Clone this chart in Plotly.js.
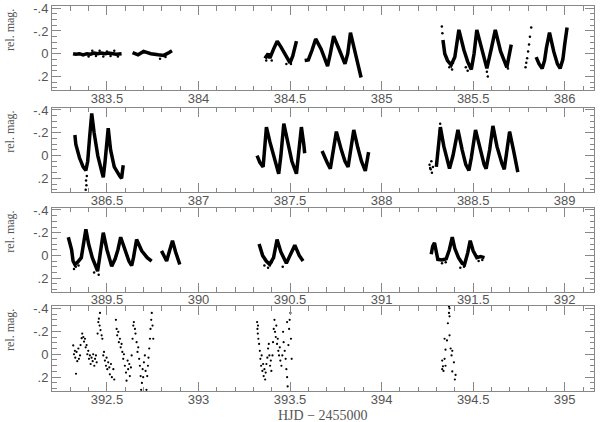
<!DOCTYPE html>
<html><head><meta charset="utf-8">
<script src="https://cdn.plot.ly/plotly-3.0.1.min.js"></script>
<style>html,body{margin:0;padding:0;background:#fff}#c{width:600px;height:422px}</style>
</head><body><div id="c"></div>
<script>
// Panel 1 (HJD-2455000 383.2 - 386.16): dense light-curve bands, segments separated by null
const p1x = [383.315,383.33,383.35,383.37,383.39,383.41,383.43,383.45,383.47,383.49,383.51,383.53,383.55,383.58,null,
  383.64,383.67,383.70,383.74,383.78,383.81,383.84,383.855,null,
  384.36,384.37,384.38,384.39,384.41,384.43,384.45,384.47,384.49,384.50,384.515,384.535,null,
  384.58,384.60,384.62,384.64,384.67,384.70,384.705,384.72,384.738,384.77,384.80,384.815,384.83,384.86,384.888,null,
  385.335,385.345,385.36,385.38,385.40,385.422,385.45,385.47,385.49,385.505,385.52,385.545,385.575,385.60,385.621,385.65,385.684,385.708,null,
  385.844,385.86,385.877,385.89,385.90,385.917,385.94,385.96,385.975,385.99,386.0,386.013];
const p1y = [0.0,0.005,0.0,0.01,0.0,0.005,-0.005,0.0,-0.005,0.0,-0.005,0.0,0.005,0.0,null,
  -0.01,0.01,-0.02,0.0,0.01,0.015,-0.01,-0.025,null,
  0.02,0.03,0.0,0.04,-0.04,-0.11,-0.06,0.0,0.06,0.08,0.02,-0.11,null,
  0.06,0.055,-0.03,-0.13,-0.04,0.10,0.11,0.0,-0.155,-0.03,0.09,0.0,-0.185,0.02,0.21,null,
  -0.12,0.0,0.06,0.10,0.03,-0.21,-0.03,0.07,0.14,0.0,-0.21,-0.06,0.13,-0.05,-0.21,-0.02,0.12,-0.08,null,
  0.03,0.09,0.13,0.06,-0.05,-0.185,-0.02,0.09,0.13,0.05,-0.08,-0.23];
const p1sx = [385.329,385.332,385.37,385.385,385.39,385.46,385.47,385.575,385.58,385.786,385.79,385.795,385.80,385.805,385.81,385.817,385.68,385.69,
  383.40,383.44,383.48,383.52,383.56,383.42,383.46,383.50,383.54,383.79,383.82,384.37,384.40,384.48,384.505];
const p1sy = [-0.24,-0.18,0.12,0.14,0.08,0.12,0.15,0.16,0.2,0.12,0.08,0.04,-0.02,-0.08,-0.15,-0.23,0.1,0.13,
  0.025,0.02,0.025,0.02,0.025,-0.025,-0.025,-0.02,-0.025,0.045,0.03,0.06,0.06,0.09,0.09];

// Panel 2 (386.2 - 389.16)
const p2x = [386.325,386.33,386.35,386.37,386.385,386.395,386.405,386.417,386.43,386.45,386.47,386.48,386.49,386.50,386.507,386.52,386.54,386.57,386.58,386.589,null,
  387.32,387.335,387.353,387.362,387.371,387.39,387.41,387.438,387.45,387.466,387.49,387.51,387.535,387.55,387.562,387.575,387.58,null,
  387.675,387.69,387.705,387.72,387.735,387.753,387.78,387.80,387.817,387.83,387.848,387.87,387.89,387.911,387.92,387.929,null,
  388.299,388.31,388.321,388.34,388.36,388.371,388.39,388.417,388.44,388.46,388.477,388.49,388.513,388.54,388.56,388.571,388.59,388.608,388.63,388.657,388.67,388.685,388.699,388.72,388.735,388.744];
const p2y = [-0.18,-0.10,0.02,0.10,0.13,0.05,-0.15,-0.37,-0.20,0.0,0.13,0.19,0.05,-0.15,-0.24,-0.05,0.10,0.18,0.20,0.085,null,
  0.0,0.06,0.10,-0.05,-0.25,-0.12,0.0,0.16,0.0,-0.28,-0.10,0.05,0.16,-0.05,-0.25,-0.10,-0.02,null,
  -0.04,0.02,0.07,0.115,-0.02,-0.21,-0.05,0.05,0.10,-0.05,-0.225,-0.07,0.05,0.135,0.06,-0.03,null,
  0.10,-0.05,-0.25,-0.08,0.06,0.115,0.0,-0.225,-0.05,0.08,0.13,0.02,-0.225,-0.05,0.08,0.115,-0.05,-0.26,-0.08,0.07,0.12,-0.05,-0.21,-0.05,0.07,0.145];
const p2sx = [386.386,386.388,386.384,386.39,388.262,388.265,388.268,388.272,388.275,388.28,388.32,388.325,388.318];
const p2sy = [0.22,0.26,0.30,0.18,0.08,0.11,0.12,0.05,0.15,0.1,-0.28,-0.2,-0.22];

// Panel 3 (389.2 - 392.16)
const p3x = [389.289,389.30,389.307,389.315,389.325,389.34,389.36,389.37,389.385,389.40,389.42,389.44,389.449,389.46,389.48,389.50,389.515,389.526,389.545,389.56,389.575,389.60,389.62,389.635,389.645,389.662,389.69,389.72,389.744,null,
  389.798,389.81,389.826,389.84,389.858,389.875,389.898,null,
  390.331,390.35,390.37,390.389,390.41,390.429,390.45,390.47,390.48,390.50,390.526,390.55,390.571,null,
  391.271,391.279,391.289,391.298,391.307,391.33,391.353,391.37,391.386,391.40,391.42,391.44,391.453,391.47,391.484,391.50,391.52,391.54,391.562];
const p3y = [-0.16,-0.08,-0.05,0.05,0.08,0.06,0.02,-0.08,-0.23,-0.10,0.02,0.10,0.14,0.02,-0.20,-0.05,0.05,0.095,0.03,-0.05,-0.16,-0.03,0.05,0.09,0.02,-0.14,-0.04,0.02,0.05,null,
  -0.04,0.0,0.05,-0.03,-0.13,-0.03,0.08,null,
  -0.10,0.0,0.05,0.08,0.02,-0.14,-0.03,0.04,0.07,0.0,-0.09,0.0,0.05,null,
  -0.01,-0.08,-0.11,-0.03,0.035,0.04,0.03,-0.05,-0.16,-0.06,0.02,0.07,0.08,-0.02,-0.13,-0.04,0.02,0.01,0.02];
const p3sx = [389.32,389.33,389.345,389.43,389.455,390.36,390.38,390.40,390.46,391.33,391.35,391.43,391.45,391.53,391.55];
const p3sy = [0.12,0.10,0.09,0.15,0.17,0.09,0.11,0.06,0.10,0.07,0.06,0.11,0.10,0.05,0.04];

// Panel 4 (392.2 - 395.16): sparse scattered points
const p4x = [392.316,392.320,392.325,392.327,392.331,392.334,392.338,392.344,392.347,392.353,392.356,392.362,392.365,392.371,392.375,392.38,392.384,392.389,392.393,392.398,392.402,392.407,392.411,392.416,392.422,392.425,392.431,392.435,392.44,392.444,
  392.449,392.453,392.456,392.46,392.462,392.465,392.471,392.475,392.48,392.484,392.489,392.495,392.498,392.502,392.507,392.513,392.516,392.522,392.527,392.535,392.54,
  392.549,392.553,392.556,392.562,392.565,392.571,392.575,392.58,392.584,392.589,392.593,392.598,392.604,392.607,392.613,392.616,392.622,392.625,392.631,392.635,
  392.64,392.644,392.647,392.653,392.656,392.662,392.667,392.671,392.676,392.68,392.684,392.687,392.691,392.695,392.698,392.702,392.707,392.711,392.716,392.72,392.724,392.727,392.731,392.735,392.738,392.742,392.745,392.749,392.753,
  393.320,393.322,393.324,393.325,393.327,393.331,393.335,393.338,393.342,393.345,393.349,393.353,393.356,393.36,393.364,393.367,393.371,393.376,393.38,393.384,393.387,393.391,393.395,393.398,393.404,393.407,393.411,393.415,393.418,393.422,393.425,393.429,393.433,393.436,393.44,393.444,393.447,393.453,393.458,393.462,393.465,393.471,393.476,393.48,393.484,393.487,393.491,393.495,393.498,393.502,393.505,393.509,393.484,
  394.368,394.371,394.368,394.371,394.362,394.371,394.344,394.357,394.349,394.377,394.386,394.382,394.344,394.331,394.395,394.335,394.349,394.331,394.338,394.386,394.404,394.4];
const p4y = [-0.077,0.0,-0.03,0.03,0.17,-0.02,0.06,-0.05,0.04,0.01,-0.08,-0.14,-0.18,-0.15,-0.11,-0.135,-0.06,-0.08,0.0,-0.03,0.04,0.01,0.085,0.03,0.06,0.0,0.10,0.04,0.01,0.07,
  -0.18,-0.28,-0.31,-0.25,-0.36,-0.21,-0.165,-0.135,0.01,-0.02,0.055,0.10,0.03,0.13,0.07,0.115,0.175,0.085,0.20,0.13,0.22,
  -0.30,-0.22,-0.165,-0.195,-0.105,-0.135,-0.06,-0.09,-0.02,0.04,0.0,0.10,0.16,0.23,0.055,0.13,0.085,0.19,0.115,0.01,
  -0.135,-0.25,-0.28,-0.22,-0.18,-0.105,-0.02,-0.06,0.04,0.10,0.19,0.31,0.25,0.13,0.20,0.07,0.01,0.145,0.31,0.19,0.10,0.03,-0.05,-0.135,-0.22,-0.30,-0.36,-0.25,-0.135,
  -0.28,-0.22,-0.18,-0.25,-0.135,-0.09,-0.03,0.04,0.10,0.01,0.145,0.085,0.19,0.13,0.22,0.16,0.085,0.03,-0.05,-0.09,0.01,0.10,0.055,0.145,0.01,-0.105,-0.22,-0.30,-0.195,-0.15,-0.25,-0.09,-0.135,-0.03,0.01,-0.06,0.055,0.10,0.01,-0.195,-0.105,-0.03,0.04,0.13,0.20,0.28,-0.08,-0.22,-0.30,-0.36,-0.135,0.04,-0.28,
  -0.415,-0.40,-0.36,-0.33,-0.27,-0.165,-0.135,-0.12,-0.04,-0.05,-0.03,0.01,0.04,0.055,0.07,0.105,0.10,0.13,0.145,0.15,0.18,0.22];

const xStarts = [383.2, 386.2, 389.2, 392.2];
const xSpan = 2.96;
const yTickVals = [-0.4, -0.2, 0, 0.2];
const yTickText = ['-.4', '-.2', '0', '.2'];
const yRange = [0.32, -0.42];

const tickFont = {family: 'Liberation Sans, Arial, sans-serif', size: 13, color: '#555'};
const axCol = '#888';
const L = 52, T = 6, B = 31, H = 422 - T - B;
const panelPx = [[6, 90], [107.7, 192], [207.7, 291.7], [306, 391]];
const dom = p => [(422 - B - p[1]) / H, (422 - B - p[0]) / H];

const bandLine = {color: '#000', width: 3.5};
const dots = {color: '#000', size: 2.5};
const traces = [
  {x: p1x, y: p1y, xaxis: 'x', yaxis: 'y', mode: 'lines', line: bandLine},
  {x: p1sx, y: p1sy, xaxis: 'x', yaxis: 'y', mode: 'markers', marker: dots},
  {x: p2x, y: p2y, xaxis: 'x2', yaxis: 'y2', mode: 'lines', line: bandLine},
  {x: p2sx, y: p2sy, xaxis: 'x2', yaxis: 'y2', mode: 'markers', marker: dots},
  {x: p3x, y: p3y, xaxis: 'x3', yaxis: 'y3', mode: 'lines', line: bandLine},
  {x: p3sx, y: p3sy, xaxis: 'x3', yaxis: 'y3', mode: 'markers', marker: dots},
  {x: p4x, y: p4y, xaxis: 'x4', yaxis: 'y4', mode: 'markers', marker: {color: '#000', size: 2.2}}
];
traces.forEach(t => { t.showlegend = false; t.hoverinfo = 'skip'; t.connectgaps = false; });

const layout = {
  width: 600, height: 422,
  margin: {l: L, r: 6, t: T, b: B},
  paper_bgcolor: '#fff', plot_bgcolor: '#fff',
  showlegend: false,
  font: tickFont,
  annotations: []
};
for (let i = 0; i < 4; i++) {
  const s = i === 0 ? '' : String(i + 1);
  layout['xaxis' + s] = {
    domain: [0, 1], anchor: 'y' + s, range: [xStarts[i], xStarts[i] + xSpan],
    tickmode: 'linear', tick0: 0, dtick: 0.5, ticks: 'inside', ticklen: 9, tickcolor: axCol,
    minor: {tickmode: 'linear', tick0: 0, dtick: 0.1, ticks: 'inside', ticklen: 4.5, tickcolor: axCol, showgrid: false},
    showline: true, linecolor: axCol, linewidth: 1, mirror: 'allticks', showgrid: false, zeroline: false,
    tickfont: tickFont, fixedrange: true, ticklabeloverflow: 'allow', ticklabelstandoff: -4
  };
  layout['yaxis' + s] = {
    domain: dom(panelPx[i]), anchor: 'x' + s, range: yRange,
    tickmode: 'array', tickvals: yTickVals, ticktext: yTickText, ticks: 'inside', ticklen: 9, tickcolor: axCol,
    minor: {tickmode: 'linear', tick0: 0, dtick: 0.05, ticks: 'inside', ticklen: 4.5, tickcolor: axCol, showgrid: false},
    showline: true, linecolor: axCol, linewidth: 1, mirror: 'allticks', showgrid: false, zeroline: false,
    tickfont: tickFont, fixedrange: true, ticklabeloverflow: 'allow'
  };
  layout.annotations.push({
    text: 'rel. mag.', textangle: -90, xref: 'paper', yref: 'paper',
    x: (10 - L) / 542, y: (422 - B - (panelPx[i][0] + 24)) / H, xanchor: 'center', yanchor: 'middle',
    showarrow: false, font: {family: 'Liberation Serif, serif', size: 12, color: '#555'}
  });
}
layout.annotations.push({
  text: 'HJD − 2455000', xref: 'paper', yref: 'paper', x: 0.5, y: (422 - B - 415) / H,
  xanchor: 'center', yanchor: 'middle', showarrow: false,
  font: {family: 'Liberation Serif, serif', size: 14, color: '#555'}
});

Plotly.newPlot('c', traces, layout, {staticPlot: true, displayModeBar: false});
</script></body></html>
